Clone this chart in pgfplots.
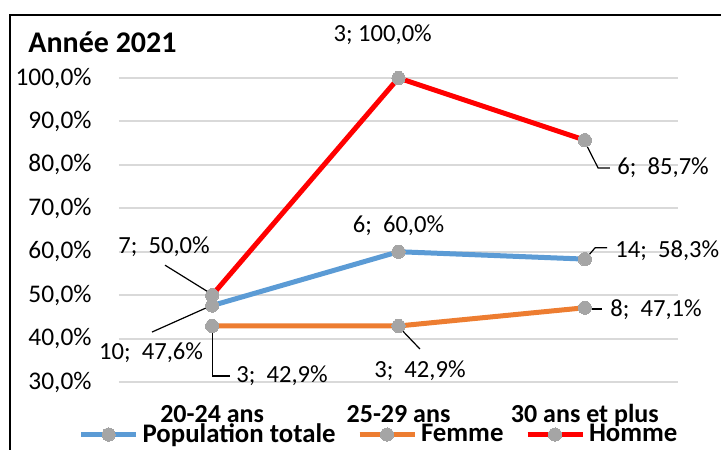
\documentclass[border=0pt]{standalone}
\usepackage{fontspec}
\setmainfont{Carlito}
\usepackage{pgfplots}
\pgfplotsset{compat=1.18}

\definecolor{popblue}{HTML}{5B9BD5}
\definecolor{femorange}{HTML}{ED7D31}
\definecolor{homred}{HTML}{FF0000}
\definecolor{markgray}{HTML}{A5A5A5}
\definecolor{gridgray}{HTML}{D9D9D9}

\tikzset{
  labl/.style={font=\fontsize{12.3}{14}\selectfont, inner sep=0pt},
  lead/.style={black, line width=0.6pt},
}

\begin{document}
\begin{tikzpicture}
\useasboundingbox (-59.5pt,-33.5pt) rectangle (301pt,191pt);
\begin{axis}[
  at={(0pt,0pt)}, anchor=south west,
  scale only axis, width=279.5pt, height=152pt,
  xmin=-0.5, xmax=2.5, ymin=30, ymax=100,
  clip=false,
  axis line style={draw=none},
  major tick length=0pt,
  xtick={0,1,2},
  xticklabels={20-24 ans,25-29 ans,30 ans et plus},
  xticklabel style={font=\fontsize{13}{15}\selectfont\bfseries, anchor=base, yshift=-20pt},
  ytick={30,40,...,100},
  yticklabel={\pgfmathprintnumber{\tick}\%},
  yticklabel style={font=\fontsize{12.7}{14}\selectfont, anchor=east, inner sep=0pt, xshift=-13.5pt,
    /pgf/number format/.cd, fixed, fixed zerofill, precision=1, use comma, assume math mode=true},
  ymajorgrids,
  grid style={gridgray, line width=1pt},
  every axis plot/.append style={line width=2.5pt, line join=round,
    mark=*, mark size=3.3pt, mark options={fill=markgray, draw=markgray, line width=0pt}},
  legend columns=3,
  legend cell align=left,
  legend image code/.code={\draw[#1, mark repeat=2, mark phase=2] plot coordinates {(0pt,0pt) (13.75pt,0pt) (27.5pt,0pt)};},
  legend style={draw=none, fill=none, font=\fontsize{13.4}{15}\selectfont\bfseries,
    at={(axis description cs:0.467,-0.173)}, anchor=center,
    /tikz/every even column/.append style={column sep=8.75pt}},
]
\addplot[popblue] coordinates {(0,47.6) (1,60.0) (2,58.3)};
\addlegendentry{Population totale}
\addplot[femorange] coordinates {(0,42.9) (1,42.9) (2,47.1)};
\addlegendentry{Femme}
\addplot[homred] coordinates {(0,50.0) (1,100.0) (2,85.7)};
\addlegendentry{Homme}

% data labels
\node[labl] at (axis cs:-0.258,61.1) {7;\ \ 50,0\%};
\draw[lead] (axis cs:-0.253,56.9) -- (axis cs:-0.02,50.7);
\node[labl] at (axis cs:-0.328,36.7) {10;\ \ 47,6\%};
\draw[lead] (axis cs:-0.323,41.5) -- (axis cs:-0.02,47.3);
\node[labl, anchor=west] at (axis cs:0.128,31.4) {3;\ \ 42,9\%};
\draw[lead] (axis cs:0,42.9) -- (axis cs:0,31.4) -- (axis cs:0.096,31.4);
\node[labl] at (axis cs:0.915,109.9) {3; 100,0\%};
\node[labl] at (axis cs:1,65.9) {6;\ \ 60,0\%};
\node[labl] at (axis cs:1.115,32.5) {3;\ \ 42,9\%};
\draw[lead] (axis cs:1.008,42.4) -- (axis cs:1.115,37.6);
\node[labl, anchor=west] at (axis cs:2.173,79.3) {6;\ \ 85,7\%};
\draw[lead] (axis cs:2,85.3) -- (axis cs:2.071,79.3) -- (axis cs:2.135,79.3);
\node[labl, anchor=west] at (axis cs:2.162,60.2) {14;\ \ 58,3\%};
\draw[lead] (axis cs:2.017,59.0) -- (axis cs:2.055,60.9) -- (axis cs:2.119,60.9);
\node[labl, anchor=west] at (axis cs:2.135,46.6) {8;\ \ 47,1\%};
\draw[lead] (axis cs:2.017,46.8) -- (axis cs:2.092,46.8);
\end{axis}
% title and chart frame
\node[anchor=base west, inner sep=0pt, font=\fontsize{15}{18}\selectfont\bfseries] at (-45.5pt,164.5pt) {Année 2021};
\draw[black, line width=1pt] (-54.5pt,-40pt) -- (-54.5pt,183.5pt) -- (310pt,183.5pt);
\end{tikzpicture}
\end{document}
